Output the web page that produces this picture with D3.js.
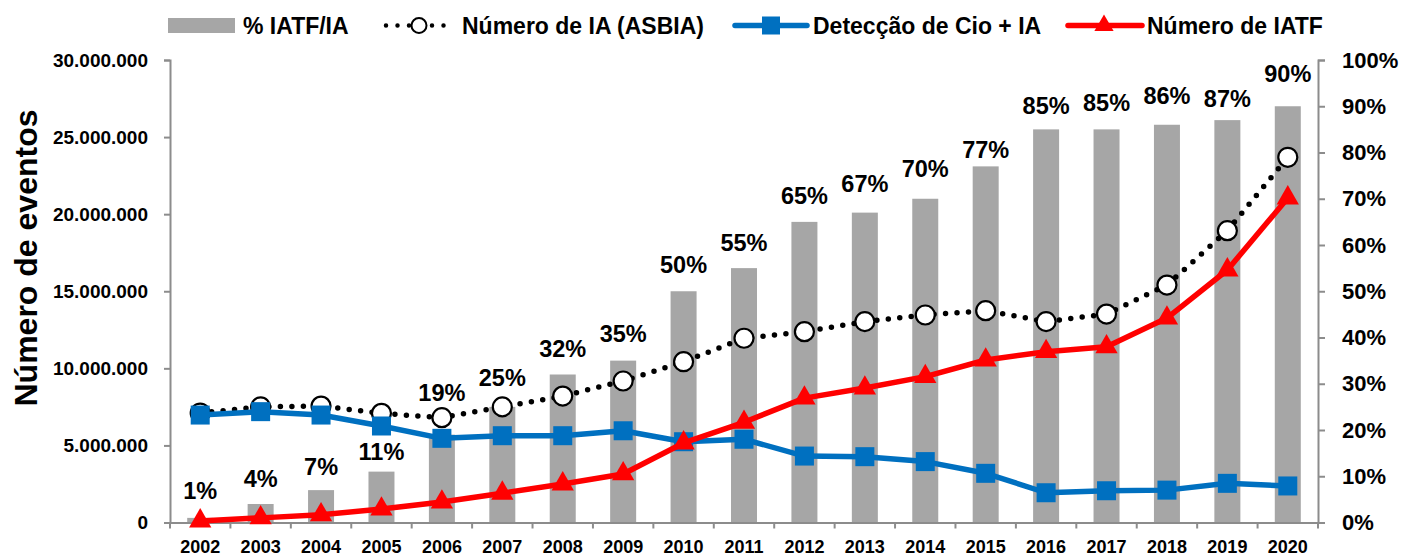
<!DOCTYPE html>
<html>
<head>
<meta charset="utf-8">
<script src="https://cdn.jsdelivr.net/npm/d3@7"></script>
<style>
  html, body { margin: 0; padding: 0; background: #ffffff; }
  svg { display: block; }
  text { font-family: "Liberation Sans", Arial, sans-serif; font-weight: bold; fill: #000; }
</style>
</head>
<body>
<svg id="chart" width="1418" height="558"></svg>
<script>
// ---------- DATA ----------
const years = ["2002","2003","2004","2005","2006","2007","2008","2009","2010","2011",
               "2012","2013","2014","2015","2016","2017","2018","2019","2020"];
// % IATF/IA (bars, right axis)
const pctIATF = [1, 4, 7, 11, 19, 25, 32, 35, 50, 55, 65, 67, 70, 77, 85, 85, 86, 87, 90];
// Número de IA (ASBIA)
const numIA = [7100000, 7500000, 7550000, 7080000, 6800000, 7500000, 8200000, 9180000, 10430000, 11950000,
               12380000, 13030000, 13460000, 13740000, 13030000, 13520000, 15400000, 18930000, 23690000];
// Detecção de Cio + IA
const detCio = [6970000, 7190000, 6970000, 6260000, 5460000, 5630000, 5630000, 5950000, 5240000, 5400000,
                4310000, 4270000, 3950000, 3190000, 1930000, 2060000, 2100000, 2540000, 2370000];
// Número de IATF
const numIATF = [100000, 300000, 500000, 870000, 1330000, 1900000, 2500000, 3150000, 5160000, 6500000,
                 8070000, 8720000, 9460000, 10540000, 11080000, 11400000, 13260000, 16380000, 21050000];
// tick values
const leftTicks = [0, 5000000, 10000000, 15000000, 20000000, 25000000, 30000000];
const rightTicks = [0, 10, 20, 30, 40, 50, 60, 70, 80, 90, 100];
const legendLabels = ["% IATF/IA", "Número de IA (ASBIA)", "Detecção de Cio + IA", "Número de IATF"];
const yTitle = "Número de eventos";

// ---------- LAYOUT (label lift above bar top, px) ----------
const labelLift = [27, 26, 24, 20, 42, 29, 26, 27, 27, 26, 26, 29, 30, 17, 24, 27, 29, 22, 33];

const svg = d3.select("#chart");
const X0 = 170, X1 = 1318, YB = 522.5, YT = 60;
const axisColor = "#8c8c8c";
const barColor = "#a6a6a6";
const blue = "#0070c0";
const red = "#ff0000";

const x = d3.scaleBand().domain(years).range([X0, X1]).padding(0);
const yL = d3.scaleLinear().domain([0, 30000000]).range([YB, YT]);
const yR = d3.scaleLinear().domain([0, 100]).range([YB, YT]);
const cx = d => x(d) + x.bandwidth() / 2;

const loc = d3.formatLocale({decimal: ",", thousands: ".", grouping: [3], currency: ["", ""]});
const fmtL = loc.format(",d");

// ---------- BARS ----------
const barW = 26;
svg.append("g").selectAll("rect").data(years).join("rect")
  .attr("x", (d) => cx(d) - barW / 2)
  .attr("y", (d, i) => yR(pctIATF[i]))
  .attr("width", barW)
  .attr("height", (d, i) => YB - yR(pctIATF[i]))
  .attr("fill", barColor);

// ---------- AXES ----------
// left
const gL = svg.append("g").attr("transform", `translate(${X0},0)`)
  .call(d3.axisLeft(yL).tickValues(leftTicks).tickFormat(fmtL).tickSizeOuter(0).tickSize(6).tickPadding(16));
gL.select(".domain").attr("stroke", axisColor).attr("stroke-width", 2);
gL.selectAll(".tick line").attr("stroke", axisColor).attr("stroke-width", 2);
gL.selectAll(".tick text").attr("font-size", 19).attr("font-family", null).attr("fill", "#000");

// right
const gR = svg.append("g").attr("transform", `translate(${X1},0)`)
  .call(d3.axisRight(yR).tickValues(rightTicks).tickFormat(d => d + "%").tickSizeOuter(0).tickSize(7).tickPadding(17));
gR.select(".domain").attr("stroke", axisColor).attr("stroke-width", 2);
gR.selectAll(".tick line").attr("stroke", axisColor).attr("stroke-width", 2);
gR.selectAll(".tick text").attr("font-size", 22).attr("font-family", null).attr("fill", "#000");

// bottom
const gB = svg.append("g").attr("transform", `translate(0,${YB})`)
  .call(d3.axisBottom(x).tickSize(0).tickPadding(0).tickSizeOuter(0));
gB.select(".domain").attr("stroke", axisColor).attr("stroke-width", 2);
gB.selectAll(".tick line").remove();
gB.selectAll(".tick text").attr("font-size", 18).attr("font-family", null).attr("fill", "#000")
  .attr("dy", null).attr("y", 30.5);
// boundary ticks between categories
const bounds = years.map(d => x(d)).concat([X1]);
gB.append("g").selectAll("line").data(bounds).join("line")
  .attr("x1", d => d).attr("x2", d => d).attr("y1", 0).attr("y2", 6)
  .attr("stroke", axisColor).attr("stroke-width", 2);

// ---------- LINES ----------
const lineGen = (arr) => d3.line().x((d, i) => cx(years[i])).y((d) => yL(d))(arr);

// Número de IA (dotted with circles)
svg.append("path").attr("d", lineGen(numIA))
  .attr("fill", "none").attr("stroke", "#000").attr("stroke-width", 5.5)
  .attr("stroke-linecap", "round").attr("stroke-dasharray", "0 11.5");
svg.append("g").selectAll("circle").data(numIA).join("circle")
  .attr("cx", (d, i) => cx(years[i])).attr("cy", d => yL(d)).attr("r", 9.5)
  .attr("fill", "#fff").attr("stroke", "#000").attr("stroke-width", 2.2);

// Detecção de Cio + IA (blue squares)
svg.append("path").attr("d", lineGen(detCio))
  .attr("fill", "none").attr("stroke", blue).attr("stroke-width", 5.5).attr("stroke-linejoin", "round");
const sq = 19;
svg.append("g").selectAll("rect").data(detCio).join("rect")
  .attr("x", (d, i) => cx(years[i]) - sq / 2).attr("y", d => yL(d) - sq / 2)
  .attr("width", sq).attr("height", sq).attr("fill", blue);

// Número de IATF (red triangles)
svg.append("path").attr("d", lineGen(numIATF))
  .attr("fill", "none").attr("stroke", red).attr("stroke-width", 5.5).attr("stroke-linejoin", "round");
const tri = d3.symbol().type(d3.symbolTriangle).size(215);
svg.append("g").selectAll("path").data(numIATF).join("path")
  .attr("d", tri)
  .attr("transform", (d, i) => `translate(${cx(years[i])},${yL(d)})`)
  .attr("fill", red);

// ---------- BAR LABELS ----------
svg.append("g").selectAll("text").data(pctIATF).join("text")
  .attr("x", (d, i) => cx(years[i]))
  .attr("y", (d, i) => yR(d) - labelLift[i] + 8.5)
  .attr("text-anchor", "middle").attr("font-size", 23.5)
  .text(d => d + "%");

// ---------- Y TITLE ----------
svg.append("text")
  .attr("transform", `translate(37,258) rotate(-90)`)
  .attr("text-anchor", "middle").attr("font-size", 32)
  .text(yTitle);

// ---------- LEGEND ----------
const LY = 25.5;
const lg = svg.append("g");
lg.append("rect").attr("x", 168).attr("y", 18).attr("width", 67).attr("height", 15).attr("fill", barColor);
lg.append("text").attr("x", 243).attr("y", LY + 8.3).attr("font-size", 23).text(legendLabels[0]);

lg.append("line").attr("x1", 386).attr("x2", 452).attr("y1", LY).attr("y2", LY)
  .attr("stroke", "#000").attr("stroke-width", 4.5).attr("stroke-linecap", "round").attr("stroke-dasharray", "0 11.5");
lg.append("circle").attr("cx", 419).attr("cy", LY).attr("r", 7.5)
  .attr("fill", "#fff").attr("stroke", "#000").attr("stroke-width", 2);
lg.append("text").attr("x", 462).attr("y", LY + 8.3).attr("font-size", 23).text(legendLabels[1]);

lg.append("line").attr("x1", 735).attr("x2", 807).attr("y1", LY).attr("y2", LY)
  .attr("stroke", blue).attr("stroke-width", 5.5).attr("stroke-linecap", "round");
lg.append("rect").attr("x", 771 - 9).attr("y", LY - 9).attr("width", 18).attr("height", 18).attr("fill", blue);
lg.append("text").attr("x", 813).attr("y", LY + 8.3).attr("font-size", 23).text(legendLabels[2]);

lg.append("line").attr("x1", 1068).attr("x2", 1142).attr("y1", LY).attr("y2", LY)
  .attr("stroke", red).attr("stroke-width", 5.5).attr("stroke-linecap", "round");
lg.append("path").attr("d", d3.symbol().type(d3.symbolTriangle).size(160)())
  .attr("transform", `translate(1104,${LY})`).attr("fill", red);
lg.append("text").attr("x", 1147).attr("y", LY + 8.3).attr("font-size", 23).text(legendLabels[3]);
</script>
</body>
</html>
